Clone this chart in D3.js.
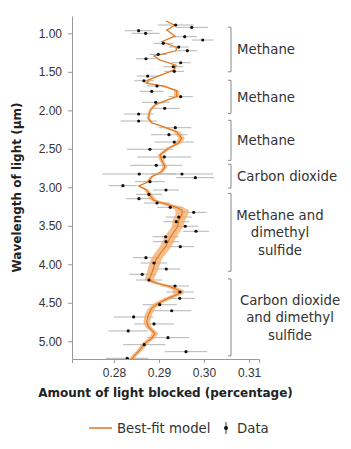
<!DOCTYPE html>
<html>
<head>
<meta charset="utf-8">
<script src="https://cdn.jsdelivr.net/npm/d3@7.9.0/dist/d3.min.js"></script>
<style>
  body { margin: 0; background: #fff; }
  svg { display: block; font-family: "DejaVu Sans", sans-serif; }
  .axis text { font-size: 12px; fill: #333; }
  .axis path, .axis line { stroke: #999; }
  .title { font-size: 12px; font-weight: bold; fill: #222; }
  .note { font-size: 13.3px; fill: #333; }
</style>
</head>
<body>
<div id="chart"></div>
<script>
// data points: wavelength (µm), light blocked (%), error half-width
const dataWl = [0.892, 0.922, 0.966, 1.000, 1.044, 1.087, 1.130, 1.178, 1.226, 1.273,
  1.330, 1.382, 1.434, 1.494, 1.555, 1.616, 1.684, 1.753, 1.823, 1.896,
  1.974, 2.048, 2.139, 2.226, 2.317, 2.412, 2.506, 2.606, 2.714, 2.827,
  2.827, 2.875, 2.927, 2.979, 3.035, 3.091, 3.148, 3.204, 3.260, 3.325,
  3.386, 3.447, 3.506, 3.571, 3.642, 3.706, 3.771, 3.914, 3.983, 4.061,
  4.130, 4.204, 4.282, 4.360, 4.442, 4.525, 4.603, 4.684, 4.775, 4.866,
  4.953, 5.044, 5.135, 5.221];
const dataVal = [0.29371, 0.29727, 0.28549, 0.28704, 0.29571, 0.29971, 0.29096, 0.29438, 0.29629, 0.28984,
  0.28711, 0.29482, 0.29318, 0.29340, 0.28749, 0.28667, 0.28956, 0.28838, 0.29482, 0.28927,
  0.29127, 0.28549, 0.28549, 0.29362, 0.29222, 0.29340, 0.28800, 0.29118, 0.28940, 0.28562,
  0.29511, 0.29807, 0.28800, 0.28200, 0.29156, 0.28778, 0.28556, 0.28956, 0.29251, 0.29771,
  0.29438, 0.29384, 0.29584, 0.29822, 0.29149, 0.29156, 0.29473, 0.28711, 0.28889, 0.29162,
  0.28629, 0.28778, 0.29356, 0.29467, 0.29460, 0.29016, 0.29282, 0.28438, 0.28889, 0.28318,
  0.29200, 0.28673, 0.29600, 0.28296];
const dataErr = [0.0040, 0.0036, 0.0031, 0.0031, 0.0027, 0.0024, 0.0022, 0.0022, 0.0022, 0.0020,
  0.0022, 0.0022, 0.0022, 0.0022, 0.0024, 0.0022, 0.0022, 0.0027, 0.0027, 0.0031,
  0.0033, 0.0033, 0.0040, 0.0036, 0.0040, 0.0044, 0.0051, 0.0060, 0.0058, 0.0082,
  0.0069, 0.0042, 0.0033, 0.0031, 0.0029, 0.0029, 0.0029, 0.0029, 0.0029, 0.0029,
  0.0029, 0.0029, 0.0029, 0.0029, 0.0029, 0.0029, 0.0031, 0.0029, 0.0029, 0.0031,
  0.0029, 0.0029, 0.0031, 0.0031, 0.0033, 0.0038, 0.0044, 0.0044, 0.0044, 0.0044,
  0.0047, 0.0047, 0.0047, 0.0047];

// best-fit model: wavelength, value, spread
const modelWl = [0.840, 0.896, 0.957, 1.035, 1.109, 1.182, 1.226, 1.295, 1.347, 1.416,
  1.477, 1.606, 1.649, 1.684, 1.745, 1.823, 1.866, 1.931, 2.005, 2.104,
  2.161, 2.213, 2.278, 2.364, 2.429, 2.494, 2.581, 2.645, 2.732, 2.797,
  2.862, 2.927, 2.983, 3.035, 3.100, 3.165, 3.208, 3.252, 3.295, 3.347,
  3.425, 3.512, 3.597, 3.684, 3.771, 3.857, 3.944, 4.031, 4.117, 4.205,
  4.247, 4.282, 4.334, 4.386, 4.442, 4.506, 4.571, 4.658, 4.745, 4.810,
  4.896, 4.961, 5.026, 5.113, 5.178, 5.234];
const modelVal = [0.29156, 0.29356, 0.29171, 0.29356, 0.29060, 0.29393, 0.29378, 0.28889, 0.29022, 0.29378,
  0.29333, 0.28762, 0.28727, 0.29096, 0.29393, 0.29393, 0.29184, 0.28911, 0.28800, 0.28762,
  0.28838, 0.29096, 0.29393, 0.29504, 0.29429, 0.29207, 0.29022, 0.29060, 0.29133, 0.29060,
  0.28838, 0.28762, 0.28556, 0.28727, 0.28800, 0.28873, 0.29096, 0.29356, 0.29511, 0.29511,
  0.29444, 0.29411, 0.29311, 0.29222, 0.29144, 0.29033, 0.28933, 0.28889, 0.28838, 0.28778,
  0.28949, 0.29207, 0.29429, 0.29429, 0.29207, 0.28984, 0.28838, 0.28762, 0.28727, 0.28762,
  0.28911, 0.28838, 0.28689, 0.28578, 0.28467, 0.28393];
const modelSpread = [0.0002, 0.0002, 0.0002, 0.0002, 0.0002, 0.0002, 0.0002, 0.0002, 0.0003, 0.0003,
  0.0003, 0.0005, 0.0005, 0.0006, 0.0006, 0.0006, 0.0005, 0.0004, 0.0003, 0.0003,
  0.0003, 0.0006, 0.0007, 0.0007, 0.0007, 0.0006, 0.0005, 0.0005, 0.0005, 0.0005,
  0.0004, 0.0004, 0.0004, 0.0005, 0.0006, 0.0008, 0.0012, 0.0014, 0.0015, 0.0014,
  0.0014, 0.0013, 0.0013, 0.0013, 0.0013, 0.0013, 0.0012, 0.0012, 0.0011, 0.0010,
  0.0011, 0.0012, 0.0012, 0.0011, 0.0010, 0.0009, 0.0008, 0.0008, 0.0007, 0.0007,
  0.0007, 0.0007, 0.0007, 0.0006, 0.0006, 0.0005];

// bracketed molecule labels
const groupLabels = [['Methane'], ['Methane'], ['Methane'], ['Carbon dioxide'],
  ['Methane and', 'dimethyl', 'sulfide'], ['Carbon dioxide', 'and dimethyl', 'sulfide']];
const groupStart = [0.92, 1.61, 2.13, 2.70, 3.08, 4.19];
const groupEnd = [1.50, 2.04, 2.65, 3.01, 4.09, 5.19];

const yTicks = [1.0, 1.5, 2.0, 2.5, 3.0, 3.5, 4.0, 4.5, 5.0];
const xTicks = [0.28, 0.29, 0.30, 0.31];

const width = 351, height = 449;
const plot = { left: 72, right: 259, top: 16, bottom: 359 };

const svg = d3.select('#chart').append('svg')
  .attr('width', width).attr('height', height);

const xScale = d3.scaleLinear().domain([0.2707, 0.3122]).range([plot.left, plot.right]);
const yScale = d3.scaleLinear().domain([0.775, 5.23]).range([plot.top, plot.bottom]);

const points = dataWl.map((w, i) => ({ wl: w, v: dataVal[i], e: dataErr[i] }));
const model = modelWl.map((w, i) => ({ wl: w, v: modelVal[i], s: modelSpread[i] }));

// error bars
svg.append('g').selectAll('line')
  .data(points)
  .join('line')
  .attr('x1', d => xScale(d.v - d.e))
  .attr('x2', d => xScale(d.v + d.e))
  .attr('y1', d => yScale(d.wl))
  .attr('y2', d => yScale(d.wl))
  .attr('stroke', '#b4b4b4')
  .attr('stroke-width', 1);

// model band + line
const area = d3.area()
  .y(d => yScale(d.wl))
  .x0(d => xScale(d.v - d.s))
  .x1(d => xScale(d.v + d.s));
svg.append('path').datum(model)
  .attr('d', area)
  .attr('fill', '#f2a865')
  .attr('fill-opacity', 0.75);

const line = d3.line()
  .x(d => xScale(d.v))
  .y(d => yScale(d.wl));
svg.append('path').datum(model)
  .attr('d', line)
  .attr('fill', 'none')
  .attr('stroke', '#e2761c')
  .attr('stroke-width', 1.1);

// dots
svg.append('g').selectAll('circle')
  .data(points)
  .join('circle')
  .attr('cx', d => xScale(d.v))
  .attr('cy', d => yScale(d.wl))
  .attr('r', 1.6)
  .attr('fill', '#111');

// axes
svg.append('g')
  .attr('class', 'axis')
  .attr('transform', `translate(${plot.left},0)`)
  .call(d3.axisLeft(yScale).tickValues(yTicks).tickFormat(d3.format('.2f'))
    .tickSize(4).tickSizeOuter(0).tickPadding(6));

svg.append('g')
  .attr('class', 'axis')
  .attr('transform', `translate(0,${plot.bottom})`)
  .call(d3.axisBottom(xScale).tickValues(xTicks).tickFormat(d3.format('.2f'))
    .tickSize(4).tickSizeOuter(4).tickPadding(5));

// axis titles
svg.append('text')
  .attr('class', 'title')
  .attr('x', (plot.left + plot.right) / 2)
  .attr('y', 397)
  .attr('text-anchor', 'middle')
  .text('Amount of light blocked (percentage)');

svg.append('text')
  .attr('class', 'title')
  .attr('transform', `translate(21,${(plot.top + plot.bottom) / 2}) rotate(-90)`)
  .attr('text-anchor', 'middle')
  .text('Wavelength of light (µm)');

// brackets
const bx = 231;
const brackets = svg.append('g');
groupLabels.forEach((lines, i) => {
  const y0 = yScale(groupStart[i]), y1 = yScale(groupEnd[i]);
  brackets.append('path')
    .attr('d', `M${bx - 3},${y0}H${bx}V${y1}H${bx - 3}`)
    .attr('fill', 'none')
    .attr('stroke', '#888')
    .attr('stroke-width', 1);
  const multi = lines.length > 1;
  const cx = multi ? (i === 4 ? 280 : 290) : 237;
  const lh = 17.5;
  const mid = (y0 + y1) / 2;
  const t = brackets.append('text')
    .attr('class', 'note')
    .attr('text-anchor', multi ? 'middle' : 'start');
  lines.forEach((s, j) => {
    t.append('tspan')
      .attr('x', cx)
      .attr('y', mid + (j - (lines.length - 1) / 2) * lh + 5)
      .text(s);
  });
});

// legend
const lg = svg.append('g');
lg.append('line')
  .attr('x1', 89).attr('x2', 112).attr('y1', 428).attr('y2', 428)
  .attr('stroke', '#e2761c').attr('stroke-width', 1.5);
lg.append('text').attr('class', 'note').attr('font-size', 13)
  .attr('x', 117).attr('y', 432.5).text('Best-fit model');
lg.append('line')
  .attr('x1', 226).attr('x2', 226).attr('y1', 422).attr('y2', 434)
  .attr('stroke', '#333').attr('stroke-width', 1);
lg.append('circle').attr('cx', 226).attr('cy', 428).attr('r', 2).attr('fill', '#111');
lg.append('text').attr('class', 'note')
  .attr('x', 237).attr('y', 432.5).text('Data');
</script>
</body>
</html>
